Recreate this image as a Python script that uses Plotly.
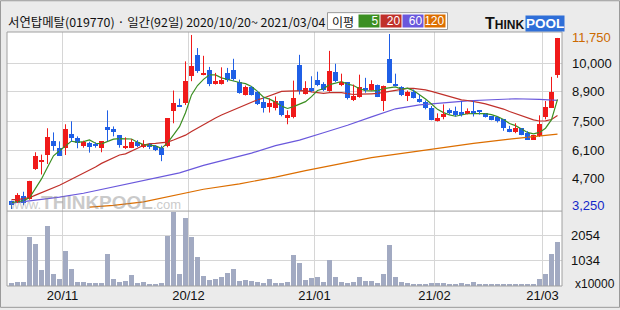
import pandas as pd
import plotly.graph_objects as go

# ---------------- data ----------------
holidays = ['2020-12-25', '2020-12-31', '2021-01-01', '2021-02-11', '2021-02-12', '2021-03-01']
dates = [d for d in pd.bdate_range('2020-10-20', '2021-03-04') if d.strftime('%Y-%m-%d') not in holidays]

open_ = [3520, 3450, 3790, 3620, 5150, 5490, 5870, 6550, 6220, 6200,
         6900, 6720, 6320, 6450, 6400, 6220, 7250, 7150, 6850, 6190,
         6220, 6490, 6270, 6400, 6290, 6200, 6290, 8070, 8350, 8450,
         9820, 10870, 9900, 10120, 9440, 9440, 9990, 10150, 9520, 8870,
         9270, 9040, 8520, 8270, 8200, 8570, 7720, 7750, 10400, 8950,
         9240, 9650, 9450, 9100, 10020, 9420, 9520, 8600, 8770, 9200,
         9150, 9400, 8570, 10700, 9450, 9290, 8820, 9020, 8650, 8520,
         8200, 7570, 7770, 8120, 8050, 8000, 7940, 8050, 8100, 7950,
         7800, 7750, 7650, 7150, 7020, 7200, 6950, 6620, 6800, 7770,
         8240, 9870]
high = [3550, 3930, 4000, 4550, 5990, 5870, 7200, 6990, 6540, 7400,
        7550, 6790, 6570, 6520, 6490, 6550, 8100, 7290, 6850, 6740,
        6650, 6600, 6600, 6440, 6350, 6320, 7700, 9100, 8690, 10570,
        11900, 11240, 10850, 10290, 9990, 10270, 10240, 10700, 9650, 9350,
        9320, 9070, 8740, 8700, 8800, 8570, 8100, 9600, 10900, 9570,
        9820, 10050, 9520, 11100, 10450, 9950, 9520, 9400, 9900, 9740,
        9620, 9400, 9350, 11950, 9950, 9320, 9100, 9150, 8900, 8600,
        8320, 7950, 8400, 8200, 8290, 8570, 8200, 8570, 8100, 7950,
        7800, 7790, 7650, 7320, 7450, 7200, 7050, 6850, 7850, 8570,
        9790, 11750]
low = [3130, 3430, 3320, 3600, 5100, 4870, 5400, 6070, 5800, 5850,
       6520, 6190, 6220, 5970, 6220, 5990, 6550, 6790, 6220, 6150,
       6200, 6250, 6200, 6150, 6050, 5540, 6240, 7450, 8270, 8370,
       9570, 9990, 9870, 9320, 9400, 9400, 9540, 9600, 8940, 8850,
       8850, 8370, 7990, 7990, 8100, 7800, 7400, 7700, 8900, 8900,
       9020, 9320, 9070, 9040, 9520, 9320, 8650, 8570, 8740, 8990,
       9100, 8770, 8070, 9490, 9320, 8820, 8570, 8700, 8490, 8150,
       7600, 7540, 7650, 7900, 7790, 7790, 7900, 7790, 7890, 7740,
       7600, 7490, 7070, 7000, 6950, 6850, 6620, 6620, 6770, 7650,
       8240, 9740]
close = [3320, 3820, 3440, 4550, 5820, 5600, 6770, 6320, 5820, 7150,
         6700, 6470, 6490, 6240, 6320, 6550, 7120, 7020, 6350, 6300,
         6500, 6320, 6400, 6240, 6090, 5870, 7700, 8450, 8300, 9600,
         10350, 10070, 10000, 9440, 9570, 9620, 9650, 9700, 8990, 9290,
         8870, 8440, 8240, 8490, 8550, 7850, 7850, 8700, 9070, 9240,
         9100, 9400, 9150, 10100, 9600, 9520, 8740, 8820, 9270, 9150,
         9450, 8770, 9350, 9490, 9370, 8870, 9040, 8720, 8520, 8200,
         7620, 7700, 7900, 7950, 7850, 7900, 8050, 7940, 8040, 7770,
         7620, 7570, 7220, 7020, 7220, 6870, 6620, 6850, 7400, 8270,
         9020, 11750]
volume = [109, 177, 177, 1986, 1704, 659, 2440, 470, 297, 1423,
          699, 177, 177, 137, 137, 137, 1302, 297, 177, 217,
          458, 137, 177, 96, 96, 137, 2026, 2991, 498, 2750,
          1986, 1182, 418, 257, 297, 378, 539, 699, 217, 257,
          217, 177, 137, 297, 137, 137, 177, 1262, 941, 245,
          338, 378, 177, 1061, 378, 177, 137, 177, 378, 217,
          217, 137, 498, 1664, 378, 177, 137, 96, 96, 96,
          137, 137, 137, 96, 96, 137, 96, 177, 96, 96,
          96, 96, 96, 96, 96, 96, 96, 96, 297, 498,
          1302, 1785]

# moving-average values before enough in-window closes exist
ma5_head = [3450, 3500, 3550, 3700]
ma20_head = [3600, 3600, 3650, 3700, 3830, 3950, 4080, 4200, 4330, 4480,
             4630, 4780, 4930, 5100, 5250, 5430, 5580, 5730, 5850]
ma60_day = [0, 4, 8, 12, 16, 20, 24, 28, 32, 36, 40, 44, 48, 52, 56, 60, 64, 68, 72, 76, 80, 84, 88, 91]
ma60_val = [3425, 3575, 3725, 3925, 4175, 4450, 4700, 4950, 5325, 5650, 5950, 6325,
            6600, 6975, 7350, 7775, 8180, 8375, 8475, 8575, 8635, 8685, 8650, 8600]
ma120_day = [13, 17, 22, 27, 32, 38, 44, 49, 55, 60, 66, 72, 77, 83, 88, 91]
ma120_val = [3225, 3315, 3485, 3815, 4125, 4400, 4735, 5065, 5400, 5715, 5975,
             6235, 6435, 6650, 6785, 6900]

price_tick_vals = [10485, 9035, 7550, 6100, 4650]
price_tick_text = ['10,000', '8,900', '7,500', '6,100', '4,700']
last_price_label = '11,750'
low_price_label = '3,250'
vol_tick_vals = [1034, 2054]
vol_tick_text = ['1034', '2054']
ma_names = ['5', '20', '60', '120']
title_text = '서연탑메탈(019770) · 일간(92일) 2020/10/20~ 2021/03/04'

# ---------------- derived ----------------
n = len(close)
xs = list(range(n))
ma5 = ma5_head + [sum(close[i - 4:i + 1]) / 5 for i in range(4, n)]
ma20 = ma20_head + [sum(close[i - 19:i + 1]) / 20 for i in range(19, n)]
month_pos = [i - 0.5 for i in range(1, n) if dates[i].month != dates[i - 1].month]
month_text = [dates[i].strftime('%y/%m') for i in range(1, n) if dates[i].month != dates[i - 1].month]

RED = '#F01A1A'
BLUE = '#1F5FE6'
C_MA = ['#3C8F22', '#C0302A', '#6A58DC', '#DC6E00']
GRID = '#D6D6D6'
FRAME = '#A0A0A0'

fig = go.Figure()

# moving averages (below candles)
fig.add_trace(go.Scatter(x=ma120_day, y=ma120_val, mode='lines', line=dict(color=C_MA[3], width=1.2)))
fig.add_trace(go.Scatter(x=ma60_day, y=ma60_val, mode='lines', line=dict(color=C_MA[2], width=1.2)))
fig.add_trace(go.Scatter(x=xs, y=ma20, mode='lines', line=dict(color=C_MA[1], width=1.2)))
fig.add_trace(go.Scatter(x=xs, y=ma5, mode='lines', line=dict(color=C_MA[0], width=1.2)))

# candle wicks
for up, col in ((True, RED), (False, BLUE)):
    wx, wy = [], []
    for i in xs:
        if (close[i] >= open_[i]) == up:
            wx += [i, i, None]
            wy += [low[i], high[i], None]
    fig.add_trace(go.Scatter(x=wx, y=wy, mode='lines', line=dict(color=col, width=1)))

# candle bodies
body_base = [min(o, c) for o, c in zip(open_, close)]
body_h = [max(abs(c - o), 40) for o, c in zip(open_, close)]
body_col = [RED if c >= o else BLUE for o, c in zip(open_, close)]
fig.add_trace(go.Bar(x=xs, y=body_h, base=body_base, width=5 / 6,
                     marker=dict(color=body_col, line=dict(width=0))))

# volume
fig.add_trace(go.Bar(x=xs, y=volume, width=5 / 6, marker=dict(color='#A2AAC2', line=dict(width=0)),
                     xaxis='x2', yaxis='y2'))

L, R, T, B = 7, 58, 32, 22
PW, PH = 620 - L - R, 310 - T - B


def px(xp):
    return (xp - L) / PW


def py(yp):
    return (310 - B - yp) / PH


split = py(212.5)

fig.update_layout(
    width=620, height=310, margin=dict(l=L, r=R, t=T, b=B),
    paper_bgcolor='#EBEBEB', plot_bgcolor='#FFFFFF',
    showlegend=False, bargap=0,
    font=dict(family='Liberation Sans', size=12, color='#111111'),
    xaxis=dict(domain=[0, 1], range=[-0.75, 91.75], anchor='y', tickvals=month_pos,
               showticklabels=False, showgrid=True, gridcolor=GRID, gridwidth=1,
               zeroline=False, showline=False, ticks=''),
    xaxis2=dict(domain=[0, 1], range=[-0.75, 91.75], anchor='y2', tickvals=month_pos,
                ticktext=month_text, showgrid=True, gridcolor=GRID, gridwidth=1,
                zeroline=False, showline=False, ticks='',
                tickfont=dict(family='Liberation Sans', size=13, color='#111111')),
    yaxis=dict(domain=[split, 1], range=[3025, 12050], side='right', tickvals=price_tick_vals,
               ticktext=price_tick_text, showgrid=True, gridcolor=GRID, gridwidth=1,
               zeroline=False, showline=False, ticks='', ticklabelstandoff=9,
               tickfont=dict(family='Liberation Sans', size=13, color='#111111')),
    yaxis2=dict(domain=[0, split], range=[0, 3035], side='right', tickvals=vol_tick_vals,
                ticktext=vol_tick_text, showgrid=True, gridcolor=GRID, gridwidth=1,
                zeroline=False, showline=False, ticks='', ticklabelstandoff=8,
                tickfont=dict(family='Liberation Sans', size=13, color='#111111')),
)

shapes = [
    dict(type='rect', xref='paper', yref='paper', x0=0, x1=1, y0=0, y1=1,
         line=dict(color=FRAME, width=1)),
    dict(type='line', xref='paper', yref='paper', x0=0, x1=1, y0=split, y1=split,
         line=dict(color=FRAME, width=1)),
    dict(type='rect', xref='paper', yref='paper', x0=px(0.5), x1=px(619.5), y0=py(309.5), y1=py(0.5),
         line=dict(color='#9A9A9A', width=1)),
    dict(type='rect', xref='paper', yref='paper', x0=px(327.5), x1=px(447.5), y0=py(29.5), y1=py(12.5),
         line=dict(color='#9A9A9A', width=1), fillcolor='#FFFFFF'),
]
fig.update_layout(shapes=shapes)

ann = []
ann.append(dict(xref='paper', yref='paper', x=px(6), y=py(21.5), xanchor='left', yanchor='middle',
                text=title_text, showarrow=False,
                font=dict(family='Noto Sans CJK KR', size=12.4, color='#111111')))
ann.append(dict(xref='paper', yref='paper', x=px(343), y=py(21), xanchor='center', yanchor='middle',
                text='이평', showarrow=False,
                font=dict(family='Noto Sans CJK KR', size=12, color='#111111')))
box_left = [358, 380, 402, 424]
for name, col, bx in zip(ma_names, C_MA, box_left):
    ann.append(dict(xref='paper', yref='paper', x=px(bx), y=py(21.3), xanchor='left', yanchor='middle',
                    text=name, showarrow=False, bgcolor=col, width=19, height=11, align='right',
                    borderpad=0.5, font=dict(family='Liberation Sans', size=12, color='#FFFFFF')))
# logo
ann.append(dict(xref='paper', yref='paper', x=px(526), y=py(23), xanchor='right', yanchor='middle',
                text="<b>T<span style='font-size:12px'>HINK</span></b>", showarrow=False,
                font=dict(family='Liberation Sans', size=16, color='#111111')))
ann.append(dict(xref='paper', yref='paper', x=px(525), y=py(23), xanchor='left', yanchor='middle',
                text='<b>POOL</b>', showarrow=False, bgcolor='#2F6FD8', borderpad=0,
                font=dict(family='Liberation Sans', size=13.5, color='#FFFFFF')))
# watermark
ann.append(dict(xref='paper', yref='paper', x=px(95), y=py(204), xanchor='center', yanchor='middle',
                text="www.<b><span style='font-size:19px'>THINKPOOL</span></b>.com", showarrow=False,
                opacity=0.45, font=dict(family='Liberation Sans', size=13, color='#8C8C8C')))
# right price labels
ann.append(dict(xref='paper', yref='y', x=1, y=11750, xanchor='left', yanchor='middle', xshift=8,
                text=last_price_label, showarrow=False,
                font=dict(family='Liberation Sans', size=13, color='#CC6A00')))
ann.append(dict(xref='paper', yref='y', x=1, y=3285, xanchor='left', yanchor='middle', xshift=8,
                text=low_price_label, showarrow=False,
                font=dict(family='Liberation Sans', size=13, color='#1428C8')))
ann.append(dict(xref='paper', yref='paper', x=1, y=py(286), xanchor='left', yanchor='middle', xshift=11,
                text='x10000', showarrow=False,
                font=dict(family='Liberation Sans', size=12, color='#111111')))
fig.update_layout(annotations=ann)

fig.write_html('out.html')
